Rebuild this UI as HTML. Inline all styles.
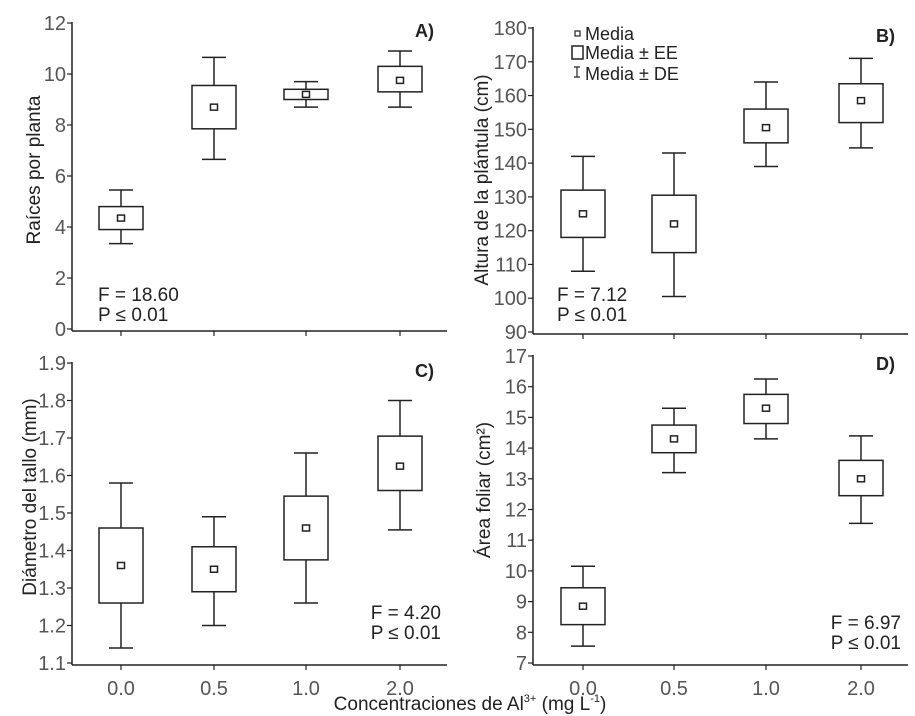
<!DOCTYPE html>
<html><head><meta charset="utf-8"><style>
html,body{margin:0;padding:0;background:#fff;width:915px;height:716px;overflow:hidden}
svg{font-family:"Liberation Sans",sans-serif}
</style></head><body>
<svg id="chart" width="915" height="716" viewBox="0 0 915 716"></svg>
<script>
const categories=["0.0","0.5","1.0","2.0"];
const meanA=[4.35,8.7,9.2,9.75], eeLoA=[3.9,7.85,9.0,9.3], eeHiA=[4.8,9.55,9.4,10.3], deLoA=[3.35,6.65,8.7,8.7], deHiA=[5.45,10.65,9.7,10.9];
const meanB=[125,122,150.5,158.5], eeLoB=[118,113.5,146,152], eeHiB=[132,130.5,156,163.5], deLoB=[108,100.5,139,144.5], deHiB=[142,143,164,171];
const meanC=[1.36,1.35,1.46,1.625], eeLoC=[1.26,1.29,1.375,1.56], eeHiC=[1.46,1.41,1.545,1.705], deLoC=[1.14,1.2,1.26,1.455], deHiC=[1.58,1.49,1.66,1.8];
const meanD=[8.85,14.3,15.3,13.0], eeLoD=[8.25,13.85,14.8,12.45], eeHiD=[9.45,14.75,15.75,13.6], deLoD=[7.55,13.2,14.3,11.55], deHiD=[10.15,15.3,16.25,14.4];
const ticksA=[0,2,4,6,8,10,12], ticksB=[90,100,110,120,130,140,150,160,170,180];
const ticksC=["1.1","1.2","1.3","1.4","1.5","1.6","1.7","1.8","1.9"], ticksD=[7,8,9,10,11,12,13,14,15,16,17];

const svg=document.getElementById('chart');const NS="http://www.w3.org/2000/svg";
function el(t,a,p){const e=document.createElementNS(NS,t);for(const k in a)e.setAttribute(k,a[k]);(p||svg).appendChild(e);return e;}
function panel(o){
  const g=el('g',{});
  
  
  const y=v=>o.y0-(v-o.min)/(o.max-o.min)*(o.y0-o.y1);
  const xs=o.xs;
  el('line',{x1:o.ax,y1:o.y1-1,x2:o.ax,y2:o.y0+2,stroke:'#222','stroke-width':1.5},g);
  el('line',{x1:o.ax,y1:o.y0+2,x2:o.ax+375,y2:o.y0+2,stroke:'#222','stroke-width':1.5},g);
  o.ticks.forEach(t=>{const v=+t,py=y(v);
    el('line',{x1:o.ax-5,y1:py,x2:o.ax,y2:py,stroke:'#222','stroke-width':1.2},g);
    const tx=el('text',{x:o.ax-6,y:py+7,'text-anchor':'end','font-size':20,fill:'#555'},g);tx.textContent=t;
    });
  xs.forEach((cx,i)=>{el('line',{x1:cx,y1:o.y0+2,x2:cx,y2:o.y0+7,stroke:'#222','stroke-width':1.2},g);
    if(o.xl){const tx=el('text',{x:cx,y:o.y0+32,'text-anchor':'middle','font-size':20,fill:'#555'},g);tx.textContent=categories[i];
      }
    const b=el('g',{},g);
    
    
    const s={stroke:'#222','stroke-width':1.5,fill:'none'};
    el('line',Object.assign({x1:cx,y1:y(o.dh[i]),x2:cx,y2:y(o.eh[i])},s),b);
    el('line',Object.assign({x1:cx,y1:y(o.dl[i]),x2:cx,y2:y(o.el[i])},s),b);
    el('line',Object.assign({x1:cx-12,y1:y(o.dh[i]),x2:cx+12,y2:y(o.dh[i])},s),b);
    el('line',Object.assign({x1:cx-12,y1:y(o.dl[i]),x2:cx+12,y2:y(o.dl[i])},s),b);
    const top=Math.min(y(o.eh[i]),y(o.el[i])),h=Math.abs(y(o.el[i])-y(o.eh[i]));
    el('rect',Object.assign({x:cx-22,y:top,width:44,height:h},s),b);
    el('rect',Object.assign({x:cx-3.5,y:y(o.m[i])-3,width:7,height:6},s),b);
  });
  const lb=el('text',{x:o.ax+362,y:o.y1+14,'text-anchor':'end','font-size':18,'font-weight':'bold',fill:'#222'},g);lb.textContent=o.id+')';
  
  const tt=el('text',{transform:`translate(${o.tx},${o.ty}) rotate(-90)`,'text-anchor':'middle','font-size':19,fill:'#222'},g);tt.textContent=o.title;
  
  o.stat.forEach((s,k)=>{const t=el('text',{x:o.sx,y:o.sy+k*20,'text-anchor':o.sa,'font-size':19,fill:'#222'},g);t.textContent=s;
    });
}
const xl=[121,214,306,400], xr=[583,674,766,861];
panel({id:'A',ax:72,y0:329,y1:23,min:0,max:12,ticks:ticksA,xs:xl,m:meanA,el:eeLoA,eh:eeHiA,dl:deLoA,dh:deHiA,title:'Raíces por planta',tx:40,ty:170,stat:['F = 18.60','P ≤ 0.01'],sx:98,sy:301,sa:'start'});
panel({id:'B',ax:533,y0:332,y1:28,min:90,max:180,ticks:ticksB,xs:xr,m:meanB,el:eeLoB,eh:eeHiB,dl:deLoB,dh:deHiB,title:'Altura de la plántula (cm)',tx:488,ty:180,stat:['F = 7.12','P ≤ 0.01'],sx:557,sy:301,sa:'start'});
panel({id:'C',ax:72,y0:663,y1:363,min:1.1,max:1.9,ticks:ticksC,xs:xl,m:meanC,el:eeLoC,eh:eeHiC,dl:deLoC,dh:deHiC,title:'Diámetro del tallo (mm)',tx:36,ty:497,stat:['F = 4.20','P ≤ 0.01'],sx:441,sy:619,sa:'end',xl:true});
panel({id:'D',ax:533,y0:663,y1:356,min:7,max:17,ticks:ticksD,xs:xr,m:meanD,el:eeLoD,eh:eeHiD,dl:deLoD,dh:deHiD,title:'Área foliar (cm²)',tx:490,ty:490,stat:['F = 6.97','P ≤ 0.01'],sx:901,sy:629,sa:'end',xl:true});
// legend
const lg=el('g',{});


el('rect',{x:575,y:31,width:5,height:5,fill:'none',stroke:'#222','stroke-width':1.2},lg);
el('rect',{x:572,y:46,width:11,height:13,fill:'none',stroke:'#222','stroke-width':1.5},lg);
el('path',{d:'M574 67h6M577 67v10M574 77h6',fill:'none',stroke:'#222','stroke-width':1.2},lg);
[['Media',40],['Media ± EE',59],['Media ± DE',80]].forEach(([t,yy])=>{const e=el('text',{x:585,y:yy,'font-size':18,fill:'#222'},lg);e.textContent=t;
  });
const xt=el('text',{x:470,y:710,'text-anchor':'middle','font-size':19,fill:'#222'});


xt.innerHTML='Concentraciones de Al<tspan font-size="11" dy="-8">3+</tspan><tspan dy="8"> (mg L</tspan><tspan font-size="11" dy="-8">-1</tspan><tspan dy="8">)</tspan>';
</script>
</body></html>
